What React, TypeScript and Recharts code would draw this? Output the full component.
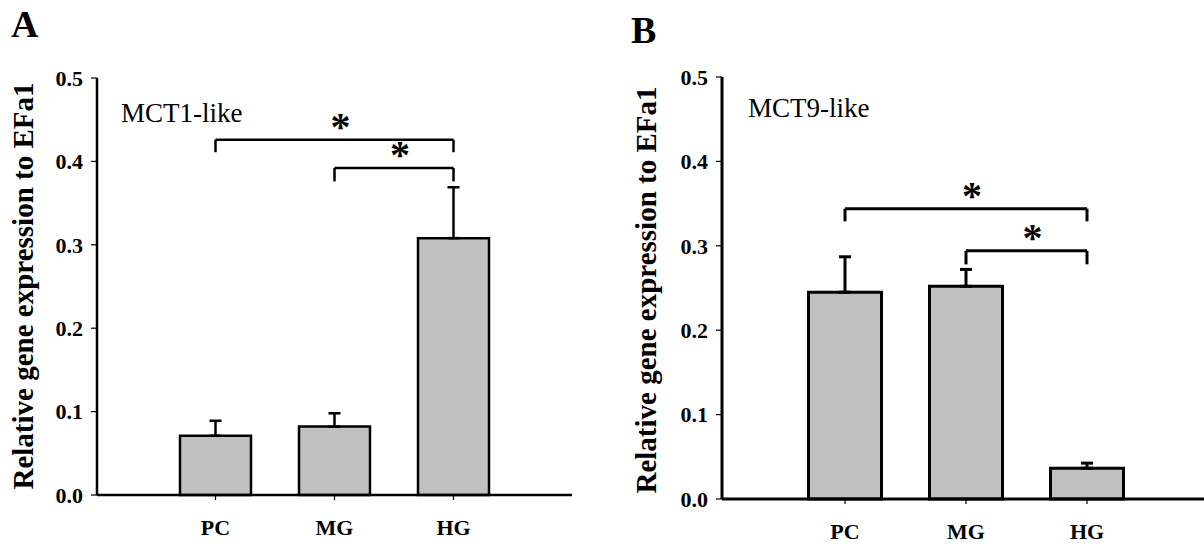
import React from 'react';
import { BarChart, Bar, XAxis, YAxis, ErrorBar, ReferenceLine } from 'recharts';

const categories = ['PC', 'MG', 'HG'];
const mct1Values = [0.071, 0.082, 0.308];
const mct1Errors = [0.018, 0.016, 0.061];
const mct9Values = [0.245, 0.252, 0.0365];
const mct9Errors = [0.042, 0.02, 0.006];
const yTicks = [0, 0.1, 0.2, 0.3, 0.4, 0.5];
const mct1Brackets = [
  { from: 'PC', to: 'HG', y: 0.426, leg: 0.411 },
  { from: 'MG', to: 'HG', y: 0.392, leg: 0.376 },
];
const mct9Brackets = [
  { from: 'PC', to: 'HG', y: 0.344, leg: 0.329 },
  { from: 'MG', to: 'HG', y: 0.294, leg: 0.278 },
];

const FONT = "'Liberation Serif', 'Times New Roman', serif";

type Bracket = { from: string; to: string; y: number; leg: number };

function buildRows(values: number[], errors: number[]) {
  return categories.map((c, i) => ({ cat: c, value: values[i], err: [0, errors[i]] }));
}

function Panel(props: {
  values: number[];
  errors: number[];
  brackets: Bracket[];
  width: number;
  top: number;
  right: number;
  yAxisWidth: number;
  xAxisHeight: number;
  pad: number;
  barSize: number;
  sw: number;
}) {
  const { values, errors, brackets, width, top, right, yAxisWidth, xAxisHeight, pad, barSize, sw } = props;
  const rows = buildRows(values, errors);
  const tickStyle = { fontFamily: FONT, fontWeight: 'bold', fontSize: 22, fill: '#000' };
  return (
    <BarChart width={width} height={548} data={rows} margin={{ top, right, bottom: 0, left: 0 }}>
      <XAxis
        dataKey="cat"
        type="category"
        padding={{ left: pad, right: pad }}
        height={xAxisHeight}
        axisLine={{ stroke: '#000', strokeWidth: sw }}
        tickLine={{ stroke: '#000', strokeWidth: 1.2 }}
        tickSize={5}
        tickMargin={19}
        tick={tickStyle}
      />
      <XAxis
        xAxisId="top"
        orientation="top"
        dataKey="cat"
        type="category"
        height={0}
        axisLine={{ stroke: '#000', strokeWidth: sw }}
        tick={false}
        tickLine={false}
      />
      <YAxis
        domain={[0, 0.5]}
        ticks={yTicks}
        width={yAxisWidth}
        tickFormatter={(v: number) => v.toFixed(1)}
        axisLine={{ stroke: '#000', strokeWidth: sw }}
        tickLine={{ stroke: '#000', strokeWidth: 1.2 }}
        tickSize={6}
        tickMargin={8}
        tick={tickStyle}
        interval={0}
      />
      <YAxis
        yAxisId="right"
        orientation="right"
        domain={[0, 0.5]}
        width={0}
        axisLine={{ stroke: '#000', strokeWidth: sw }}
        tick={false}
        tickLine={false}
      />
      <Bar dataKey="value" fill="#c0c0c0" stroke="#000" strokeWidth={sw} barSize={barSize} isAnimationActive={false}>
        <ErrorBar dataKey="err" direction="y" width={6} stroke="#000" strokeWidth={sw} />
      </Bar>
      {brackets.map((b, i) => (
        <ReferenceLine
          key={'h' + i}
          segment={[{ x: b.from, y: b.y }, { x: b.to, y: b.y }]}
          stroke="#000"
          strokeWidth={sw}
          ifOverflow="visible"
          label={{
            value: '*',
            position: 'top',
            offset: 0,
            dx: 6,
            style: { fontFamily: FONT, fontWeight: 'bold', fontSize: 40, fill: '#000' },
          }}
        />
      ))}
      {brackets.map((b, i) => (
        <ReferenceLine
          key={'l' + i}
          segment={[{ x: b.from, y: b.y }, { x: b.from, y: b.leg }]}
          stroke="#000"
          strokeWidth={sw}
          ifOverflow="visible"
        />
      ))}
      {brackets.map((b, i) => (
        <ReferenceLine
          key={'r' + i}
          segment={[{ x: b.to, y: b.y }, { x: b.to, y: b.leg }]}
          stroke="#000"
          strokeWidth={sw}
          ifOverflow="visible"
        />
      ))}
    </BarChart>
  );
}

export default function App() {
  return (
    <div style={{ position: 'absolute', left: 0, top: 0, width: 1204, height: 548, overflow: 'hidden', background: '#fff' }}>
      <div style={{ position: 'absolute', left: 0, top: 0 }}>
        <Panel
          values={mct1Values}
          errors={mct1Errors}
          brackets={mct1Brackets}
          width={600}
          top={78}
          right={28}
          yAxisWidth={97}
          xAxisHeight={53}
          pad={59}
          barSize={71}
          sw={2.5}
        />
      </div>
      <div style={{ position: 'absolute', left: 600, top: 0 }}>
        <Panel
          values={mct9Values}
          errors={mct9Errors}
          brackets={mct9Brackets}
          width={620}
          top={77}
          right={10}
          yAxisWidth={122}
          xAxisHeight={49}
          pad={62.5}
          barSize={73}
          sw={3}
        />
      </div>
      <svg width={1204} height={548} style={{ position: 'absolute', left: 0, top: 0, pointerEvents: 'none' }}>
        <text x={11} y={37} fontFamily={FONT} fontWeight="bold" fontSize={38} fill="#000">A</text>
        <text x={631} y={43} fontFamily={FONT} fontWeight="bold" fontSize={38} fill="#000">B</text>
        <text x={121} y={122} fontFamily={FONT} fontSize={27} fill="#000">MCT1-like</text>
        <text x={748} y={117} fontFamily={FONT} fontSize={27} fill="#000">MCT9-like</text>
        <text
          x={33}
          y={286}
          transform="rotate(-90 33 286)"
          textAnchor="middle"
          fontFamily={FONT}
          fontWeight="bold"
          fontSize={29}
          fill="#000"
        >
          Relative gene expression to EFa1
        </text>
        <text
          x={656}
          y={290}
          transform="rotate(-90 656 290)"
          textAnchor="middle"
          fontFamily={FONT}
          fontWeight="bold"
          fontSize={29}
          fill="#000"
        >
          Relative gene expression to EFa1
        </text>
      </svg>
    </div>
  );
}
